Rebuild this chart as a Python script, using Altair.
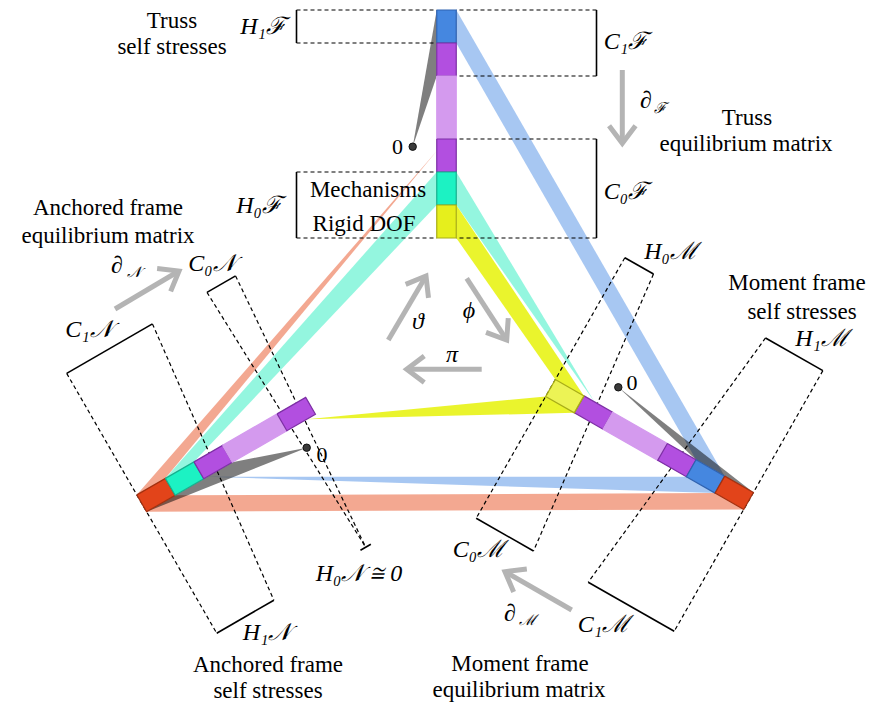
import numpy as np
import pandas as pd
import altair as alt

# ---------------- data ----------------
# three chain complexes, each drawn as a strip of cells
chain_names = ["F", "N", "M"]
chain_origin_x = [446.5, 141.7, 550.5]
chain_origin_y = [10.0, 503.3, 388.0]
chain_angle = [90.0, -30.0, 29.7]
chain_side = [-1, 1, 1]

cells_F = ["blue", "purple", "band", "purple", "teal", "yellow"]
edges_F = [0, 33, 66, 129, 162, 195, 228]
cells_N = ["red", "teal", "purple", "band", "purple"]
edges_N = [0, 33, 66, 99, 162, 195]
cells_M = ["yellow", "purple", "band", "purple", "blue", "red"]
edges_M = [0, 33, 66, 129, 162, 195, 228]

# maps between the strips: (chain, position along strip, side of strip)
band_kind = ["salmon", "salmon", "teal", "teal", "yellow", "yellow", "blue", "blue"]
band_vertices = [
    [("N", 0, 1), ("N", 33, 1), ("M", 195, 1), ("M", 228, 1)],
    [("F", 141, -1), ("N", 33, -1), ("N", 0, -1)],
    [("F", 162, -1), ("F", 195, -1), ("N", 66, -1), ("N", 33, -1)],
    [("F", 162, 1), ("F", 195, 1), ("M", 45, -1)],
    [("F", 195, 1), ("F", 228, 1), ("M", 0, -1), ("M", 33, -1)],
    [("N", 185, 1), ("M", 0, 1), ("M", 33, 1)],
    [("F", 0, 1), ("F", 33, 1), ("M", 162, -1), ("M", 195, -1)],
    [("N", 70, 1), ("M", 162, 1), ("M", 195, 1)],
]

# zero vectors and the cells sent to them
zero_x = [412.7, 306.7, 618.3]
zero_y = [146.7, 447.7, 387.3]
zero_targets = [("F", 0, 66, -1), ("N", 0, 99, 1), ("M", 162, 228, -1)]

# solid brackets: chain, start, end, offset
brackets = [
    ("F", 0, 33, -150), ("F", 162, 228, -150), ("F", 0, 66, 150), ("F", 129, 228, 150),
    ("N", 0, 99, -150), ("N", 162, 195, -150), ("N", 0, 66, 150), ("N", 166, 178, 150),
    ("M", 0, 33, -150), ("M", 162, 228, -150), ("M", 0, 66, 150), ("M", 129, 228, 150),
]
# dashed guides: chain, s_from, t_from, s_to, t_to
dashes = [
    ("F", 0, -150, 0, -9.75), ("F", 33, -150, 33, -9.75),
    ("F", 162, -150, 162, -9.75), ("F", 228, -150, 228, -9.75),
    ("F", 0, 150, 0, 9.75), ("F", 66, 150, 66, 9.75),
    ("F", 129, 150, 129, 9.75), ("F", 228, 150, 228, 9.75),
    ("N", 0, -150, 0, 150), ("N", 99, -150, 66, 150),
    ("N", 162, -150, 172, 150), ("N", 195, -150, 172, 150),
    ("M", 0, -150, 0, 150), ("M", 33, -150, 66, 150),
    ("M", 162, -150, 129, 150), ("M", 228, -150, 228, 150),
]

# gray arrows: tail -> tip
arrow_tail_x = [622.3, 115.0, 571.7, 388.3, 466.7, 481.7]
arrow_tail_y = [70.0, 309.0, 610.0, 340.0, 278.3, 369.3]
arrow_tip_x = [622.3, 179.0, 505.0, 426.0, 506.7, 406.7]
arrow_tip_y = [143.3, 271.0, 571.7, 276.0, 340.0, 369.3]

# text (plain text placed by baseline)
plain_text = ["Truss", "self stresses", "Truss", "equilibrium matrix",
              "Anchored frame", "equilibrium matrix", "Moment frame", "self stresses",
              "Anchored frame", "self stresses", "Moment frame", "equilibrium matrix",
              "Mechanisms", "Rigid DOF"]
plain_x = [172, 172, 747, 746, 108, 108, 797, 802, 268, 268, 520, 519, 368, 364]
plain_y = [28, 54, 125, 151, 215, 243, 290, 319, 672, 698, 671, 697, 197, 231]

zero_text = ["0", "0", "0"]
zero_tx = [397.5, 322, 632]
zero_ty = [147, 455, 383]

math_text = ["H₁ℱ", "C₁ℱ", "C₀ℱ", "H₀ℱ", "C₀𝒩", "C₁𝒩", "H₁𝒩", "H₀𝒩 ≅ 0",
             "H₀ℳ", "H₁ℳ", "C₀ℳ", "C₁ℳ", "ϑ", "ϕ", "π", "∂", "∂", "∂"]
math_x = [263, 626, 626, 259, 212, 89, 267, 359, 671, 822, 479, 604, 418, 469, 452, 646, 117, 510]
math_y = [27, 42, 192, 206, 264, 330, 633, 574, 252, 339, 550, 625, 322, 311, 355, 101, 266, 614]

sub_text = ["ℱ", "𝒩", "ℳ"]
sub_x = [660, 134, 527]
sub_y = [108, 272, 620]

# ---------------- styles ----------------
HALF_W = 9.75
cell_fill = {"blue": "#4587e0", "purple": "#b24fe0", "teal": "#1cf2c3",
             "yellow": "#e6ef1c", "red": "#e2441a", "band": "#d49aee"}
cell_stroke = {"blue": "#2f62b0", "purple": "#7d2fa5", "teal": "#16b08e",
               "yellow": "#a8ad16", "red": "#a3300f", "band": "#d49aee"}
band_fill = {"salmon": "#f2a38b", "teal": "#8ef5dd", "yellow": "#e9f322", "blue": "#a2c4f1"}
ARROW = "#b4b4b4"
FONT = "Liberation Serif"


def P(ch, s, t):
    k = chain_names.index(ch)
    a = np.radians(chain_angle[k])
    ux, uy = np.cos(a), np.sin(a)
    vx, vy = -uy * chain_side[k], ux * chain_side[k]
    return (chain_origin_x[k] + s * ux + t * vx, chain_origin_y[k] + s * uy + t * vy)


# ---------------- build tables ----------------
band_rows = []
for pid, (kind, verts) in enumerate(zip(band_kind, band_vertices)):
    for i, (ch, s, side) in enumerate(verts):
        x, y = P(ch, s, side * HALF_W)
        band_rows.append(dict(poly=f"b{pid}", i=i, x=x, y=y, fill=band_fill[kind]))
bands_df = pd.DataFrame(band_rows)

wedge_rows = []
for pid, (zx, zy, (ch, s0, s1, side)) in enumerate(zip(zero_x, zero_y, zero_targets)):
    pts = [(zx, zy), P(ch, s0, side * HALF_W), P(ch, s1, side * HALF_W)]
    for i, (x, y) in enumerate(pts):
        wedge_rows.append(dict(poly=f"w{pid}", i=i, x=x, y=y))
wedges_df = pd.DataFrame(wedge_rows)

box_rows = []
semi_rows = []
for ch, cells, edges in [("F", cells_F, edges_F), ("N", cells_N, edges_N), ("M", cells_M, edges_M)]:
    for j, c in enumerate(cells):
        s0, s1 = edges[j], edges[j + 1]
        corners = [(s0, -HALF_W), (s1, -HALF_W), (s1, HALF_W), (s0, HALF_W), (s0, -HALF_W)]
        target = semi_rows if (ch == "M" and c == "yellow") else box_rows
        for i, (s, t) in enumerate(corners):
            x, y = P(ch, s, t)
            target.append(dict(poly=f"{ch}{j}", i=i, x=x, y=y,
                               fill=cell_fill[c], stroke=cell_stroke[c]))
boxes_df = pd.DataFrame(box_rows)
semi_df = pd.DataFrame(semi_rows)

br_rows = []
for ch, s0, s1, t in brackets:
    x1, y1 = P(ch, s0, t)
    x2, y2 = P(ch, s1, t)
    br_rows.append(dict(x=x1, y=y1, x2=x2, y2=y2))
br_df = pd.DataFrame(br_rows)

da_rows = []
for ch, sa, ta, sb, tb in dashes:
    x1, y1 = P(ch, sa, ta)
    x2, y2 = P(ch, sb, tb)
    da_rows.append(dict(x=x1, y=y1, x2=x2, y2=y2))
da_df = pd.DataFrame(da_rows)

shaft_rows, head_rows = [], []
ARM, ANG = 22.0, np.radians(37)
for k in range(len(arrow_tail_x)):
    tx, ty = arrow_tail_x[k], arrow_tail_y[k]
    px, py = arrow_tip_x[k], arrow_tip_y[k]
    d = np.array([px - tx, py - ty])
    d = d / np.linalg.norm(d)
    shaft_rows.append(dict(x=tx, y=ty, x2=px - 2 * d[0], y2=py - 2 * d[1]))
    pts = []
    for sgn in (1, -1):
        c, s = np.cos(sgn * ANG), np.sin(sgn * ANG)
        r = np.array([c * d[0] - s * d[1], s * d[0] + c * d[1]])
        pts.append((px - ARM * r[0], py - ARM * r[1]))
    for i, (x, y) in enumerate([pts[0], (px, py), pts[1]]):
        head_rows.append(dict(arrow=k, i=i, x=x, y=y))
shaft_df = pd.DataFrame(shaft_rows)
head_df = pd.DataFrame(head_rows)

dots_df = pd.DataFrame(dict(x=zero_x, y=zero_y))
plain_df = pd.DataFrame(dict(x=plain_x, y=plain_y, text=plain_text))
zero_df = pd.DataFrame(dict(x=zero_tx, y=zero_ty, text=zero_text))
math_df = pd.DataFrame(dict(x=math_x, y=math_y, text=math_text))
sub_df = pd.DataFrame(dict(x=sub_x, y=sub_y, text=sub_text))

# ---------------- chart ----------------
XS = alt.Scale(domain=[8, 872], nice=False, zero=False)
YS = alt.Scale(domain=[8, 703], nice=False, zero=False, reverse=True)
X = alt.X("x:Q", scale=XS, axis=None)
Y = alt.Y("y:Q", scale=YS, axis=None)

bands = alt.Chart(bands_df).mark_line(strokeWidth=0, fillOpacity=0.95).encode(
    x=X, y=Y, order="i:Q", detail="poly:N", fill=alt.Fill("fill:N", scale=None))
wedges = alt.Chart(wedges_df).mark_line(strokeWidth=0, fill="#000000", fillOpacity=0.5).encode(
    x=X, y=Y, order="i:Q", detail="poly:N")
dashed = alt.Chart(da_df).mark_rule(color="black", strokeWidth=1.2, strokeDash=[4, 3]).encode(
    x=X, y=Y, x2="x2:Q", y2="y2:Q")
solid = alt.Chart(br_df).mark_rule(color="black", strokeWidth=1.6).encode(
    x=X, y=Y, x2="x2:Q", y2="y2:Q")
boxes = alt.Chart(boxes_df).mark_line(strokeWidth=1.2, strokeJoin="miter").encode(
    x=X, y=Y, order="i:Q", detail="poly:N",
    fill=alt.Fill("fill:N", scale=None), stroke=alt.Stroke("stroke:N", scale=None))
semi = alt.Chart(semi_df).mark_line(strokeWidth=1.2, strokeJoin="miter", fillOpacity=0.75).encode(
    x=X, y=Y, order="i:Q", detail="poly:N",
    fill=alt.Fill("fill:N", scale=None), stroke=alt.Stroke("stroke:N", scale=None))
dots = alt.Chart(dots_df).mark_circle(size=55, color="#3a3a3a", opacity=1,
                                      stroke="#111111", strokeWidth=1).encode(x=X, y=Y)
shafts = alt.Chart(shaft_df).mark_rule(color=ARROW, strokeWidth=5, strokeCap="butt").encode(
    x=X, y=Y, x2="x2:Q", y2="y2:Q")
heads = alt.Chart(head_df).mark_line(color=ARROW, strokeWidth=5, strokeJoin="miter",
                                     strokeCap="butt").encode(
    x=X, y=Y, order="i:Q", detail="arrow:N")
plain = alt.Chart(plain_df).mark_text(font=FONT, fontSize=23, color="black",
                                      baseline="alphabetic", align="center").encode(
    x=X, y=Y, text="text:N")
zeros = alt.Chart(zero_df).mark_text(font=FONT, fontSize=22, color="black",
                                     baseline="middle", align="center").encode(
    x=X, y=Y, text="text:N")
math = alt.Chart(math_df).mark_text(font=FONT, fontSize=24, fontStyle="italic", color="black",
                                    baseline="middle", align="center").encode(
    x=X, y=Y, text="text:N")
subs = alt.Chart(sub_df).mark_text(font=FONT, fontSize=15, fontStyle="italic", color="black",
                                   baseline="middle", align="center").encode(
    x=X, y=Y, text="text:N")

chart = alt.layer(
    bands, wedges, dashed, solid, boxes, semi, dots, shafts, heads, plain, zeros, math, subs
).properties(
    width=864, height=695, padding=0, autosize=alt.AutoSizeParams(type="none")
).configure_view(strokeWidth=0)

chart.save("out.html", embed_options={"renderer": "svg", "actions": False})
